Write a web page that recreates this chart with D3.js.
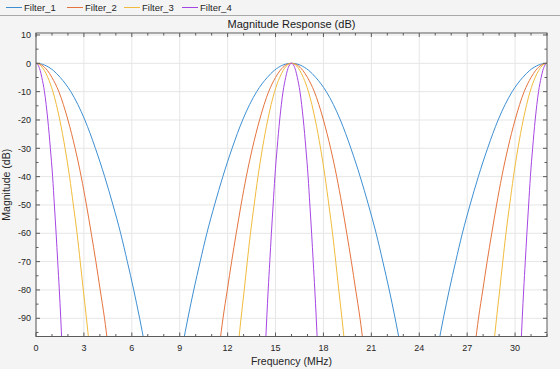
<!DOCTYPE html>
<html>
<head>
<meta charset="utf-8">
<script src="https://cdn.jsdelivr.net/npm/d3@7"></script>
<style>
  body { margin: 0; background: #f4f4f4; }
  svg { display: block; font-family: "Liberation Sans", Arial, sans-serif; }
</style>
</head>
<body>
<svg></svg>
<script>
// values
const filterNames = ["Filter_1", "Filter_2", "Filter_3", "Filter_4"];
const filterColors = ["#3d8fd2", "#e5733d", "#f0bb3c", "#a646e2"];
const lobeCenters = [0, 16, 32]; // MHz, passband peaks
// dB levels and the distance (MHz) from the lobe peak where each filter reaches them
const levels = [0, -2.5, -5, -10, -20, -30, -40, -50, -60, -70, -80, -90, -110];
const filter1Offsets = [0, 1.08, 1.52, 2.18, 3.06, 3.72, 4.30, 4.82, 5.30, 5.72, 6.12, 6.49, 7.15];
const filter2Offsets = [0, 0.71, 1.00, 1.43, 2.00, 2.45, 2.83, 3.16, 3.46, 3.75, 4.02, 4.29, 4.72];
const filter3Offsets = [0, 0.52, 0.74, 1.06, 1.49, 1.82, 2.10, 2.34, 2.57, 2.77, 2.96, 3.16, 3.52];
const filter4Offsets = [0, 0.26, 0.365, 0.53, 0.74, 0.90, 1.04, 1.15, 1.26, 1.36, 1.46, 1.55, 1.71];
const xTicks = [0, 3, 6, 9, 12, 15, 18, 21, 24, 27, 30];
const xMinorTicks = [1, 2, 4, 5, 7, 8, 10, 11, 13, 14, 16, 17, 19, 20, 22, 23, 25, 26, 28, 29, 31, 32];
const yTicks = [10, 0, -10, -20, -30, -40, -50, -60, -70, -80, -90];
const yMinorTicks = [5, -5, -15, -25, -35, -45, -55, -65, -75, -85, -95];

const allOffsets = [filter1Offsets, filter2Offsets, filter3Offsets, filter4Offsets];

const W = 560, H = 369;
const margin = { top: 33, right: 13, bottom: 32.5, left: 36 },
      width = W - margin.left - margin.right,
      height = H - margin.top - margin.bottom;

const root = d3.select("svg").attr("width", W).attr("height", H);

// legend strip at the top
const legend = root.append("g");
root.append("line")
    .attr("x1", 0).attr("x2", W)
    .attr("y1", 15.5).attr("y2", 15.5)
    .style("stroke", "#a8a8a8");
const legendX = [6, 67, 124, 182];
filterNames.forEach((name, i) => {
  legend.append("line")
      .attr("x1", legendX[i]).attr("x2", legendX[i] + 16)
      .attr("y1", 7.5).attr("y2", 7.5)
      .style("stroke", filterColors[i]).style("stroke-width", 1);
  legend.append("text")
      .attr("x", legendX[i] + 18).attr("y", 11)
      .text(name)
      .style("font-size", "9.5px").style("fill", "#262626");
});

const svg = root.append("g")
    .attr("transform", `translate(${margin.left},${margin.top})`);

const x = d3.scaleLinear().domain([0, 32]).range([0, width]);
const y = d3.scaleLinear().domain([-96.43, 10.7]).range([height, 0]);

svg.append("rect")
    .attr("width", width).attr("height", height)
    .style("fill", "white");

// grid
svg.selectAll(".xgrid").data(xTicks).enter().append("line")
    .attr("x1", d => x(d)).attr("x2", d => x(d))
    .attr("y1", 0).attr("y2", height)
    .style("stroke", "#e6e6e6");
svg.selectAll(".ygrid").data(yTicks).enter().append("line")
    .attr("x1", 0).attr("x2", width)
    .attr("y1", d => y(d)).attr("y2", d => y(d))
    .style("stroke", "#e6e6e6");

// curves
svg.append("clipPath").attr("id", "plotclip")
  .append("rect").attr("width", width).attr("height", height);

const line = d3.line()
    .x(d => x(d[0]))
    .y(d => y(d[1]))
    .curve(d3.curveMonotoneX);

const curves = svg.append("g").attr("clip-path", "url(#plotclip)");
allOffsets.forEach((offs, i) => {
  lobeCenters.forEach(c => {
    const pts = [];
    for (let k = levels.length - 1; k > 0; k--) pts.push([c - offs[k], levels[k]]);
    pts.push([c, levels[0]]);
    for (let k = 1; k < levels.length; k++) pts.push([c + offs[k], levels[k]]);
    curves.append("path")
        .datum(pts)
        .attr("d", line)
        .style("fill", "none")
        .style("stroke", filterColors[i])
        .style("stroke-width", 1);
  });
});

// axes with inward ticks on all four sides
const axisColor = "#5a5a5a";
function ticksOn(g, vals, len, side) {
  g.selectAll(null).data(vals).enter().append("line")
    .attr("x1", d => side === "b" || side === "t" ? x(d) : (side === "l" ? 0 : width))
    .attr("x2", d => side === "b" || side === "t" ? x(d) : (side === "l" ? len : width - len))
    .attr("y1", d => side === "l" || side === "r" ? y(d) : (side === "b" ? height : 0))
    .attr("y2", d => side === "l" || side === "r" ? y(d) : (side === "b" ? height - len : len))
    .style("stroke", axisColor);
}
const axes = svg.append("g");
["b", "t"].forEach(s => { ticksOn(axes, xTicks, 4, s); ticksOn(axes, xMinorTicks, 2.5, s); });
["l", "r"].forEach(s => { ticksOn(axes, yTicks, 4, s); ticksOn(axes, yMinorTicks, 2.5, s); });

svg.append("rect")
    .attr("width", width).attr("height", height)
    .style("fill", "none").style("stroke", axisColor);

// tick labels
svg.selectAll(".xlab").data(xTicks).enter().append("text")
    .attr("x", d => x(d)).attr("y", height + 14)
    .attr("text-anchor", "middle")
    .text(d => d)
    .style("font-size", "9px").style("fill", "#262626");
svg.selectAll(".ylab").data(yTicks).enter().append("text")
    .attr("x", -5).attr("y", d => y(d) + 3.2)
    .attr("text-anchor", "end")
    .text(d => d)
    .style("font-size", "9px").style("fill", "#262626");

// titles
svg.append("text")
    .attr("x", width / 2).attr("y", -5)
    .attr("text-anchor", "middle")
    .text("Magnitude Response (dB)")
    .style("font-size", "11px").style("fill", "#1a1a1a");

svg.append("text")
    .attr("x", width / 2).attr("y", height + 28)
    .attr("text-anchor", "middle")
    .text("Frequency (MHz)")
    .style("font-size", "10.5px").style("fill", "#262626");

svg.append("text")
    .attr("transform", "rotate(-90)")
    .attr("x", -height / 2).attr("y", -26)
    .attr("text-anchor", "middle")
    .text("Magnitude (dB)")
    .style("font-size", "10.5px").style("fill", "#262626");
</script>
</body>
</html>
